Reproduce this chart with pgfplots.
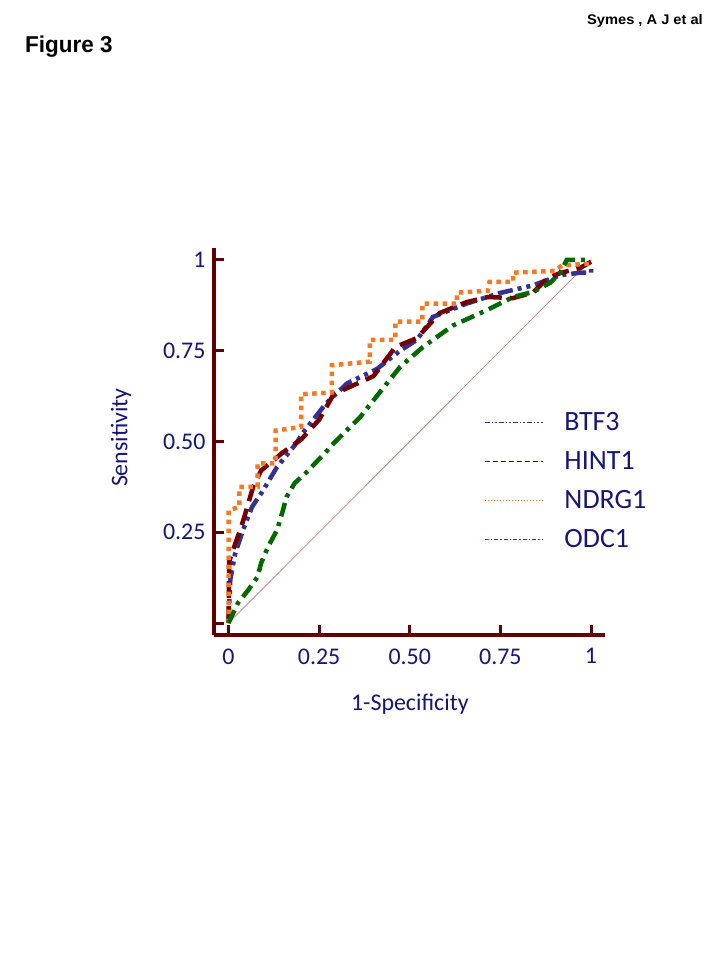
\documentclass[border=0pt]{standalone}
\usepackage{fontspec}
\setmainfont{Carlito}
\newfontfamily\arialfont{Liberation Sans}
\usepackage{pgfplots}
\pgfplotsset{compat=1.18}

\definecolor{axisred}{RGB}{96,0,0}
\definecolor{textblue}{RGB}{22,22,120}
\definecolor{btfblue}{RGB}{50,50,150}
\definecolor{hintred}{RGB}{118,0,0}
\definecolor{ndrgorange}{RGB}{245,120,35}
\definecolor{odcgreen}{RGB}{0,105,0}
\definecolor{diagpink}{RGB}{200,140,140}

\begin{document}
\begin{tikzpicture}
% page frame 720 x 960
\path (0bp,0bp) rectangle (720bp,960bp);
\node[anchor=base west, inner sep=0pt, font=\arialfont\bfseries\fontsize{23}{26}\selectfont]
  at (25bp,907bp) {\scalebox{0.98}[1]{Figure 3}};
\node[anchor=base east, inner sep=0pt, font=\arialfont\bfseries\fontsize{14}{16}\selectfont]
  at (703bp,935bp) {\scalebox{1.05}[1]{Symes , A J et al}};

\begin{axis}[
    at={(214bp,325bp)}, anchor=south west,
    scale only axis, width=391bp, height=387bp,
    xmin=-0.04, xmax=1.0386,
    ymin=-0.033, ymax=1.033,
    axis lines*=left,
    axis line style={line width=4bp, color=axisred},
    tick align=inside,
    major tick length=10bp,
    tick style={line width=3bp, color=axisred},
    xtick={0,0.25,0.5,0.75,1},
    xticklabels={0,0.25,0.50,0.75,1},
    ytick={0,0.25,0.5,0.75,1},
    yticklabels={,0.25,0.50,0.75,1},
    tick label style={font=\fontsize{24}{28}\selectfont, text=textblue},
    xticklabel style={yshift=-10bp},
    yticklabel style={xshift=-5bp},
    xlabel={1-Specificity},
    ylabel={Sensitivity},
    label style={font=\fontsize{24}{28}\selectfont, text=textblue},
    xlabel style={at={(axis description cs:0.501,-0.178)}, anchor=center},
    ylabel style={at={(axis description cs:-0.238,0.51)}, anchor=center},
    legend style={draw=none, fill=none, at={(axis description cs:0.6905,0.398)},
      anchor=west, font=\fontsize{28}{30}\selectfont, text=textblue,
      row sep=19.5bp, column sep=21bp, inner sep=0pt, nodes={inner sep=0pt}},
    legend cell align=left,
]
% chance line
\addplot[diagpink, line width=0.8bp, forget plot] coordinates {(0,0) (1,1)};

% BTF3
\addplot[btfblue, line width=4.5bp, dash pattern=on 15bp off 5bp on 4bp off 5bp on 4bp off 5bp,
  legend image code/.code={\draw[btfblue, line width=1.3bp,
    dash pattern=on 5bp off 2bp on 1.5bp off 2bp on 1.5bp off 2bp] (0bp,0bp) -- (58bp,0bp);}]
coordinates {
(0,0) (0.005,0.12) (0.018,0.19) (0.04,0.256) (0.065,0.32) (0.092,0.36)
(0.134,0.43) (0.183,0.49) (0.21,0.53) (0.27,0.606) (0.327,0.66) (0.41,0.70)
(0.473,0.75) (0.52,0.78) (0.564,0.843) (0.657,0.88) (0.749,0.909) (0.84,0.93)
(0.915,0.958) (0.97,0.965) (1,0.965) (1,0.975)
};
\addlegendentry{BTF3}

% HINT1
\addplot[hintred, line width=4.5bp, dash pattern=on 17bp off 8bp,
  legend image code/.code={\draw[hintred, line width=1.3bp,
    dash pattern=on 5bp off 3bp] (0bp,0bp) -- (58bp,0bp);}]
coordinates {
(0,0) (0.002,0.17) (0.04,0.28) (0.068,0.375) (0.09,0.42) (0.15,0.47)
(0.2,0.505) (0.25,0.56) (0.29,0.63) (0.4,0.68) (0.46,0.76) (0.52,0.785)
(0.583,0.854) (0.657,0.884) (0.716,0.898) (0.785,0.895) (0.84,0.91)
(0.88,0.95) (0.915,0.964) (0.97,0.978) (1,0.995)
};
\addlegendentry{HINT1}

% NDRG1
\addplot[ndrgorange, line width=4.5bp, dash pattern=on 4.5bp off 4.5bp,
  legend image code/.code={\draw[ndrgorange, line width=1.3bp,
    dash pattern=on 1.5bp off 1.5bp] (0bp,0bp) -- (58bp,0bp);}]
coordinates {
(0,0) (0,0.31) (0.03,0.32) (0.03,0.375) (0.08,0.375) (0.08,0.44)
(0.13,0.44) (0.13,0.53) (0.2,0.54) (0.2,0.63) (0.285,0.635) (0.285,0.71)
(0.39,0.72) (0.39,0.78) (0.46,0.78) (0.46,0.83) (0.535,0.83) (0.535,0.88)
(0.63,0.88) (0.63,0.91) (0.715,0.915) (0.72,0.94) (0.785,0.94) (0.785,0.965)
(0.9,0.97) (0.92,0.985) (1,0.99)
};
\addlegendentry{NDRG1}

% ODC1
\addplot[odcgreen, line width=4.5bp, dash pattern=on 14bp off 6bp on 4bp off 6bp,
  legend image code/.code={\draw[odcgreen, line width=1.3bp,
    dash pattern=on 4bp off 2bp on 1.5bp off 2bp] (0bp,0bp) -- (58bp,0bp);}]
coordinates {
(0,0) (0.026,0.055) (0.054,0.09) (0.08,0.127) (0.09,0.165) (0.109,0.21)
(0.134,0.256) (0.15,0.31) (0.16,0.347) (0.183,0.386) (0.21,0.41) (0.266,0.468)
(0.29,0.495) (0.363,0.567) (0.437,0.66) (0.473,0.705) (0.536,0.76) (0.62,0.82)
(0.713,0.862) (0.785,0.898) (0.84,0.912) (0.887,0.937) (0.915,0.964)
(0.933,1.0) (1,1)
};
\addlegendentry{ODC1}
\end{axis}
\end{tikzpicture}
\end{document}
